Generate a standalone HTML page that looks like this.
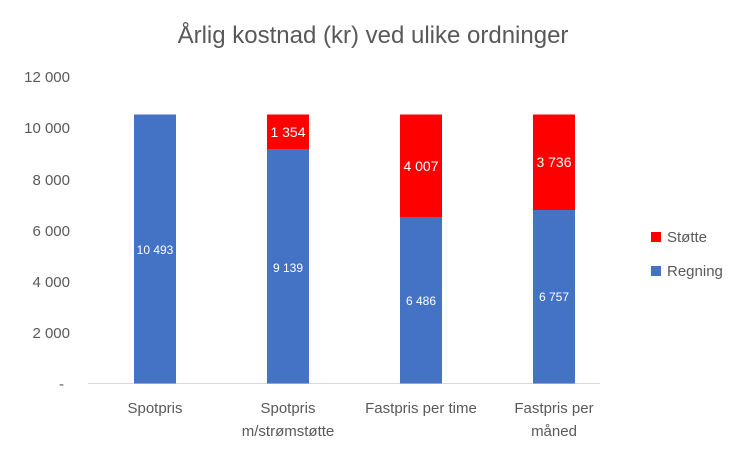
<!DOCTYPE html>
<html><head><meta charset="utf-8"><style>
body{margin:0;background:#fff}
svg{display:block;font-family:"Liberation Sans",Arial,sans-serif}
</style></head><body>
<svg width="750" height="456" viewBox="0 0 750 456">
<rect width="750" height="456" fill="#fff"/>
<text x="373" y="43" text-anchor="middle" font-size="24" fill="#595959">Årlig kostnad (kr) ved ulike ordninger</text>
<g font-size="15" fill="#595959" text-anchor="end">
<text x="70" y="82">12 000</text>
<text x="70" y="133">10 000</text>
<text x="70" y="185">8 000</text>
<text x="70" y="236">6 000</text>
<text x="70" y="287">4 000</text>
<text x="70" y="338">2 000</text>
<text x="64" y="389">-</text>
</g>
<line x1="88" y1="383.5" x2="600" y2="383.5" stroke="#d9d9d9" stroke-width="1"/>
<!-- bars -->
<rect x="134" y="114.5" width="42" height="269" fill="#4472c4"/>
<rect x="267" y="149" width="42" height="234.5" fill="#4472c4"/>
<rect x="267" y="114.5" width="42" height="34.5" fill="#ff0000"/>
<rect x="400" y="217" width="42" height="166.5" fill="#4472c4"/>
<rect x="400" y="114.5" width="42" height="102.5" fill="#ff0000"/>
<rect x="533" y="210" width="42" height="173.5" fill="#4472c4"/>
<rect x="533" y="114.5" width="42" height="95.5" fill="#ff0000"/>
<g fill="#fff" text-anchor="middle" font-size="12">
<text x="155" y="254">10 493</text>
<text x="288" y="272">9 139</text>
<text x="421" y="305">6 486</text>
<text x="554" y="301">6 757</text>
</g>
<g fill="#fff" text-anchor="middle" font-size="14">
<text x="288" y="137">1 354</text>
<text x="421" y="171">4 007</text>
<text x="554" y="167">3 736</text>
</g>
<g font-size="15" fill="#595959" text-anchor="middle">
<text x="155" y="413">Spotpris</text>
<text x="288" y="413">Spotpris</text>
<text x="288" y="436">m/strømstøtte</text>
<text x="421" y="413">Fastpris per time</text>
<text x="554" y="413">Fastpris per</text>
<text x="554" y="436">måned</text>
</g>
<rect x="651" y="232" width="10" height="10" fill="#ff0000"/>
<text x="667" y="242" font-size="15" fill="#595959">Støtte</text>
<rect x="651" y="266" width="10" height="10" fill="#4472c4"/>
<text x="667" y="276" font-size="15" fill="#595959">Regning</text>
</svg>
</body></html>
